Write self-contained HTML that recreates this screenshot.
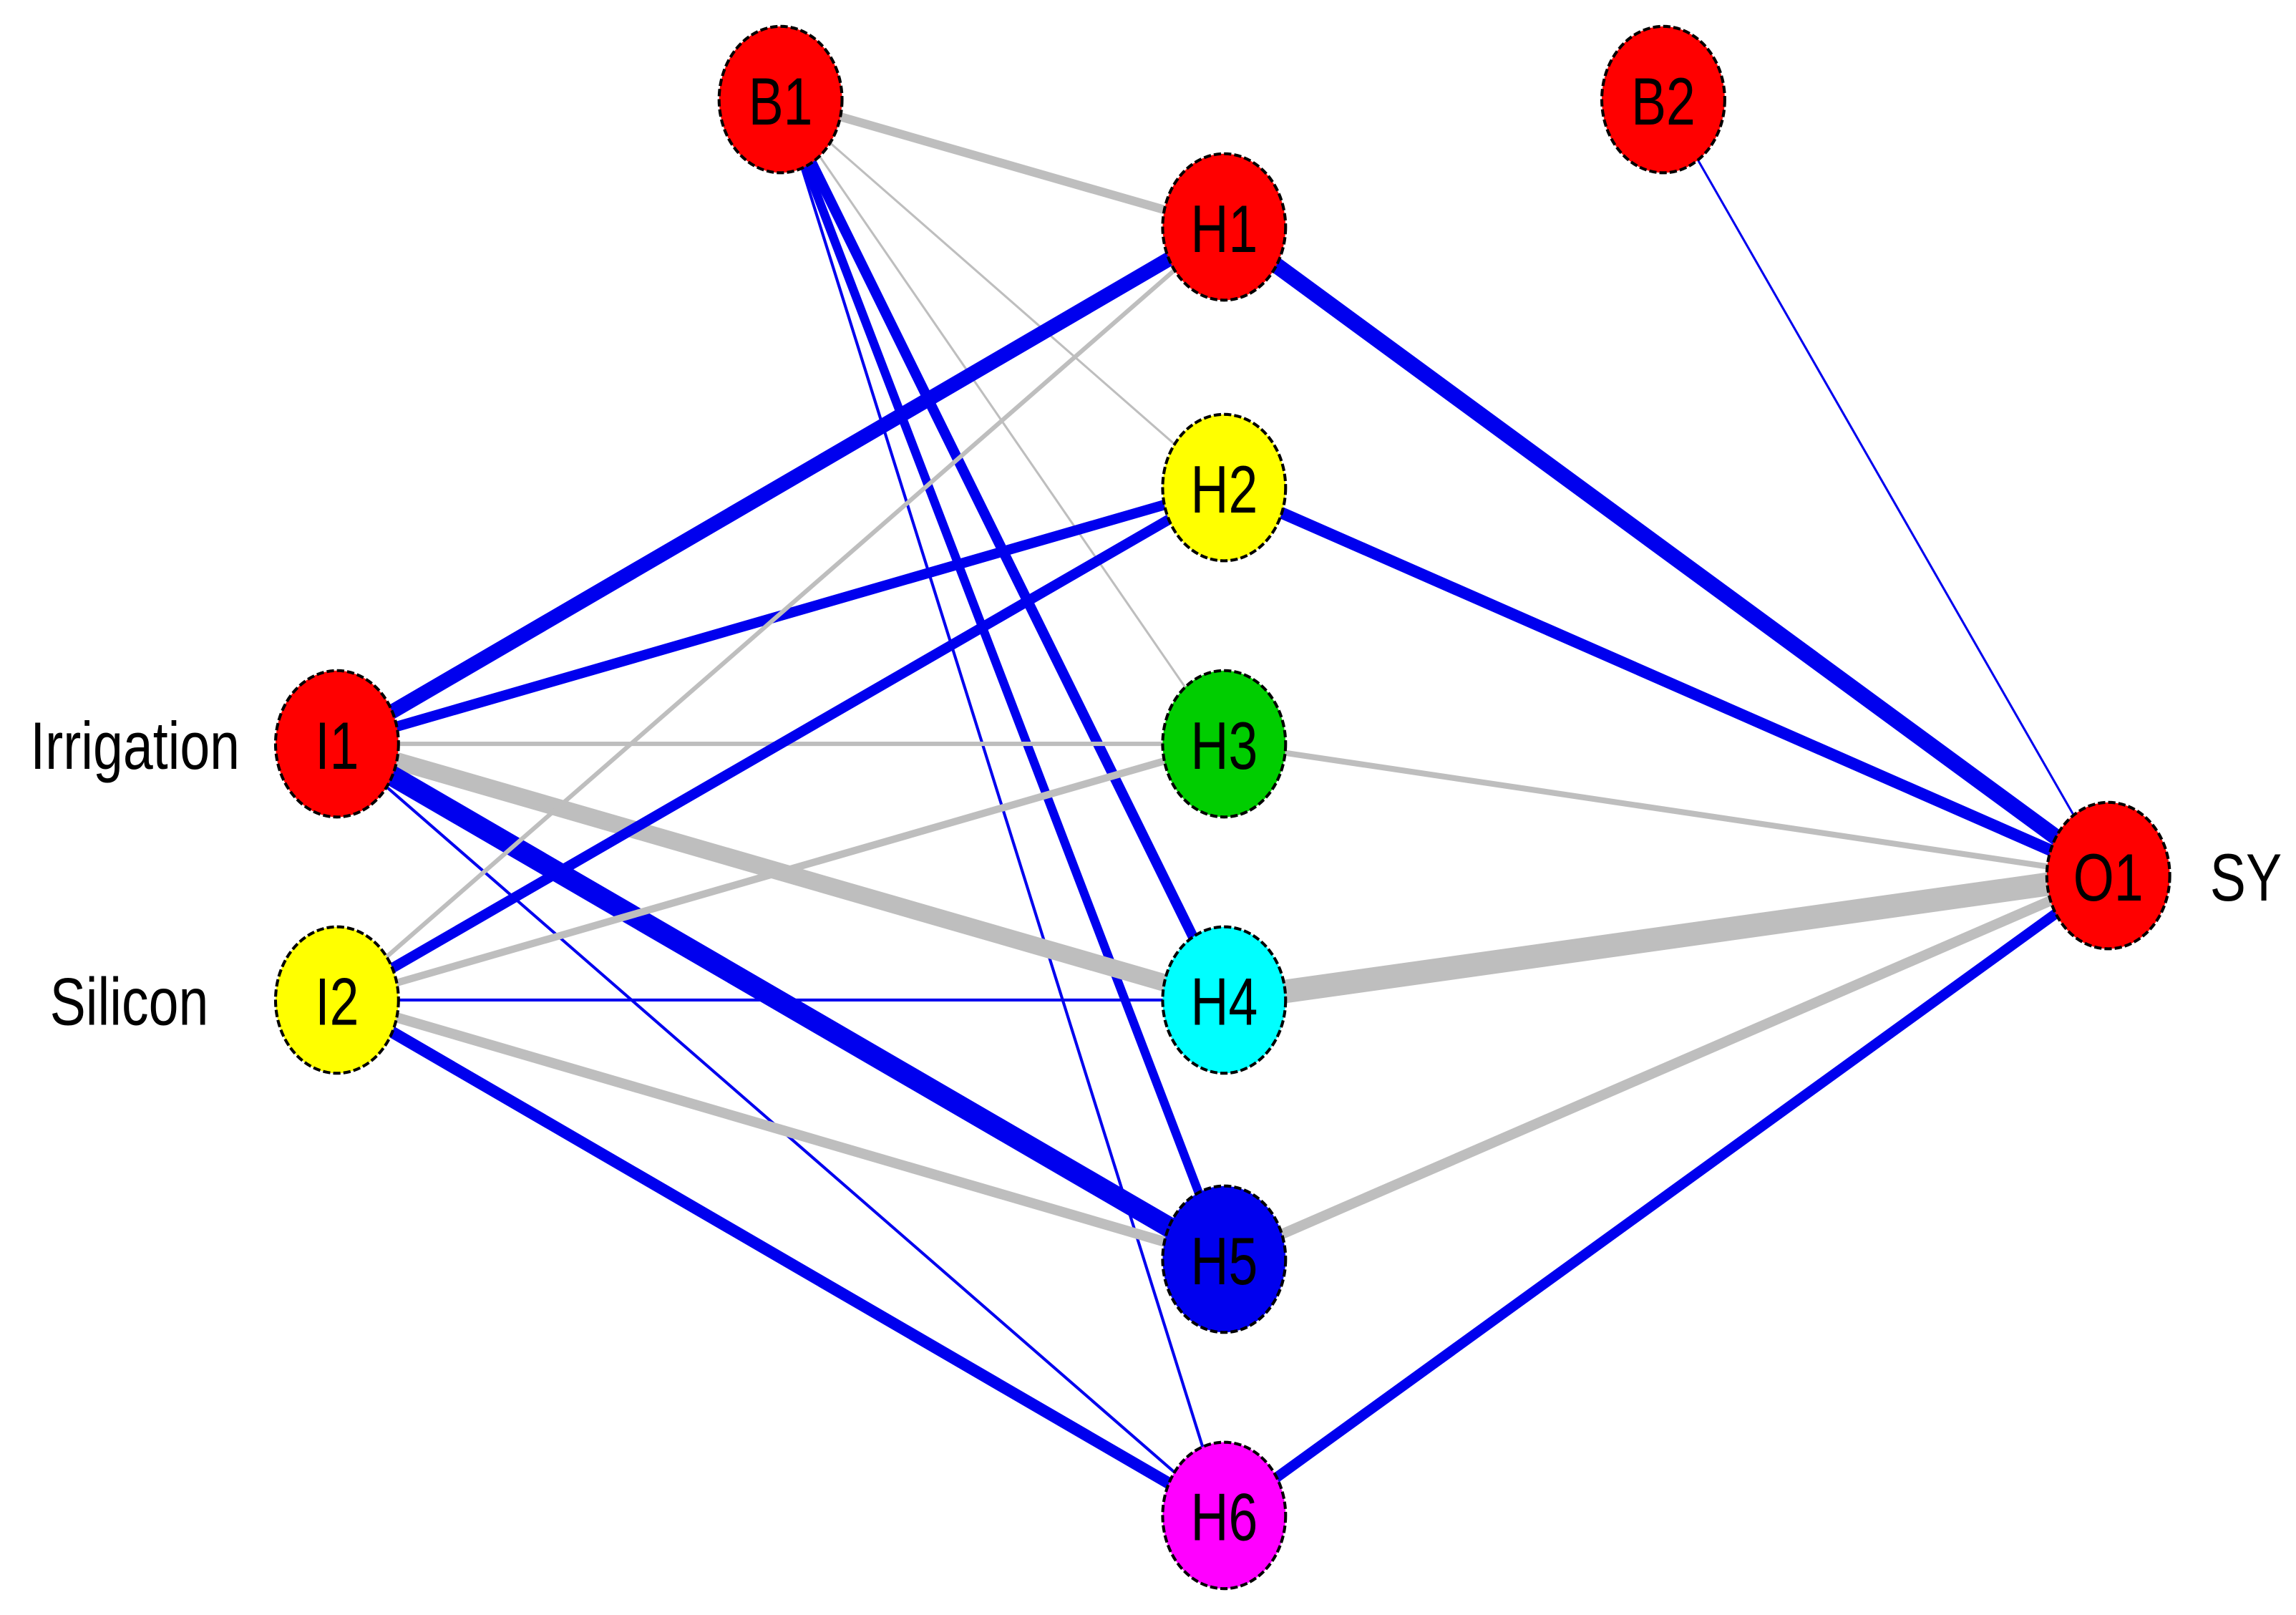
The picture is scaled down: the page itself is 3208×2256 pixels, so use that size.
<!DOCTYPE html>
<html><head><meta charset="utf-8"><style>html,body{margin:0;padding:0;background:#fff}svg{display:block}</style></head>
<body>
<svg width="3208" height="2256" viewBox="0 0 1568 1103" xmlns="http://www.w3.org/2000/svg">
<rect width="1568" height="1103" fill="#fff"/>
<g stroke-linecap="butt">
<line x1="533" y1="68" x2="836" y2="155" stroke="#bebebe" stroke-width="6"/>
<line x1="533" y1="68" x2="836" y2="333" stroke="#bebebe" stroke-width="1.5"/>
<line x1="533" y1="68" x2="836" y2="508" stroke="#bebebe" stroke-width="1.5"/>
<line x1="533" y1="68" x2="836" y2="683" stroke="#0000ee" stroke-width="7"/>
<line x1="533" y1="68" x2="836" y2="860" stroke="#0000ee" stroke-width="6"/>
<line x1="533" y1="68" x2="836" y2="1035" stroke="#0000ee" stroke-width="2"/>
<line x1="230" y1="508" x2="836" y2="155" stroke="#0000ee" stroke-width="10"/>
<line x1="230" y1="508" x2="836" y2="333" stroke="#0000ee" stroke-width="7"/>
<line x1="230" y1="508" x2="836" y2="508" stroke="#bebebe" stroke-width="3"/>
<line x1="230" y1="508" x2="836" y2="683" stroke="#bebebe" stroke-width="12"/>
<line x1="230" y1="508" x2="836" y2="860" stroke="#0000ee" stroke-width="14"/>
<line x1="230" y1="508" x2="836" y2="1035" stroke="#0000ee" stroke-width="2"/>
<line x1="230" y1="683" x2="836" y2="155" stroke="#bebebe" stroke-width="3"/>
<line x1="230" y1="683" x2="836" y2="333" stroke="#0000ee" stroke-width="7"/>
<line x1="230" y1="683" x2="836" y2="508" stroke="#bebebe" stroke-width="5"/>
<line x1="230" y1="683" x2="836" y2="683" stroke="#0000ee" stroke-width="2"/>
<line x1="230" y1="683" x2="836" y2="860" stroke="#bebebe" stroke-width="7"/>
<line x1="230" y1="683" x2="836" y2="1035" stroke="#0000ee" stroke-width="8"/>
<line x1="836" y1="155" x2="1440" y2="598" stroke="#0000ee" stroke-width="11"/>
<line x1="836" y1="333" x2="1440" y2="598" stroke="#0000ee" stroke-width="8"/>
<line x1="836" y1="508" x2="1440" y2="598" stroke="#bebebe" stroke-width="4"/>
<line x1="836" y1="683" x2="1440" y2="598" stroke="#bebebe" stroke-width="16"/>
<line x1="836" y1="860" x2="1440" y2="598" stroke="#bebebe" stroke-width="7"/>
<line x1="836" y1="1035" x2="1440" y2="598" stroke="#0000ee" stroke-width="7"/>
<line x1="1136" y1="68" x2="1440" y2="598" stroke="#0000ee" stroke-width="1.5"/>
</g>
<g stroke="#000" stroke-width="2" stroke-dasharray="5 2">
<ellipse cx="533" cy="68" rx="42" ry="50" fill="#ff0000"/>
<ellipse cx="1136" cy="68" rx="42" ry="50" fill="#ff0000"/>
<ellipse cx="836" cy="155" rx="42" ry="50" fill="#ff0000"/>
<ellipse cx="836" cy="333" rx="42" ry="50" fill="#ffff00"/>
<ellipse cx="836" cy="508" rx="42" ry="50" fill="#00cd00"/>
<ellipse cx="836" cy="683" rx="42" ry="50" fill="#00ffff"/>
<ellipse cx="836" cy="860" rx="42" ry="50" fill="#0000ee"/>
<ellipse cx="836" cy="1035" rx="42" ry="50" fill="#ff00ff"/>
<ellipse cx="230" cy="508" rx="42" ry="50" fill="#ff0000"/>
<ellipse cx="230" cy="683" rx="42" ry="50" fill="#ffff00"/>
<ellipse cx="1440" cy="598" rx="42" ry="50" fill="#ff0000"/>
</g>
<g font-family="Liberation Sans, sans-serif" font-size="46" fill="#000" text-anchor="middle">
<text transform="translate(533,85) scale(0.78,1)">B1</text>
<text transform="translate(1136,85) scale(0.78,1)">B2</text>
<text transform="translate(836,172) scale(0.78,1)">H1</text>
<text transform="translate(836,350) scale(0.78,1)">H2</text>
<text transform="translate(836,525) scale(0.78,1)">H3</text>
<text transform="translate(836,700) scale(0.78,1)">H4</text>
<text transform="translate(836,877) scale(0.78,1)">H5</text>
<text transform="translate(836,1052) scale(0.78,1)">H6</text>
<text transform="translate(230,525) scale(0.78,1)">I1</text>
<text transform="translate(230,700) scale(0.78,1)">I2</text>
<text transform="translate(1440,615) scale(0.78,1)">O1</text>
<text transform="translate(92,525) scale(0.8,1)">Irrigation</text>
<text transform="translate(88,700) scale(0.8,1)">Silicon</text>
<text transform="translate(1534,615) scale(0.8,1)">SY</text>
</g>
</svg>
</body></html>
